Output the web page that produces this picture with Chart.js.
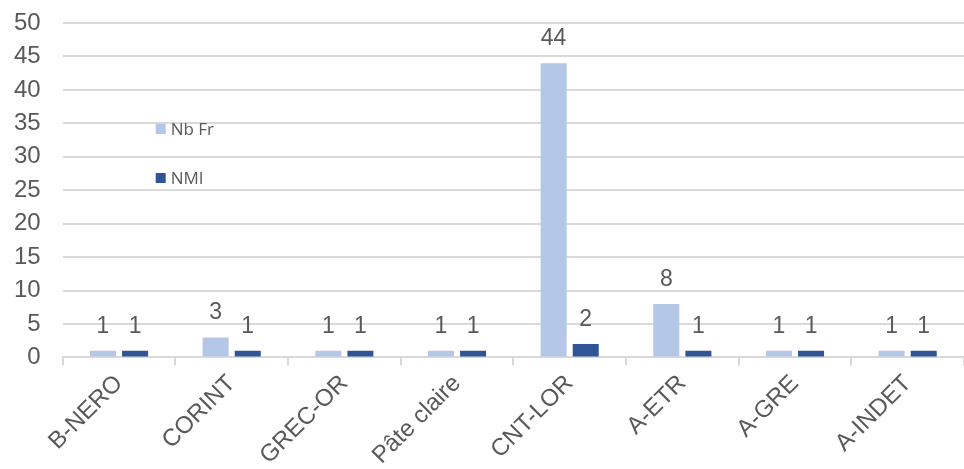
<!DOCTYPE html>
<html>
<head>
<meta charset="utf-8">
<script src="https://cdn.jsdelivr.net/npm/chart.js@4"></script>
<style>
  html, body { margin: 0; padding: 0; background: #ffffff; }
  #wrap { width: 964px; height: 469px; }
</style>
</head>
<body>
<div id="wrap"><canvas id="c" width="964" height="469"></canvas></div>
<script>
// Categories and series
const categories = ['B-NERO', 'CORINT', 'GREC-OR', 'Pâte claire', 'CNT-LOR', 'A-ETR', 'A-GRE', 'A-INDET'];
const nbFr = [1, 3, 1, 1, 44, 8, 1, 1];
const nmi  = [1, 1, 1, 1, 2, 1, 1, 1];
const seriesNames = ['Nb Fr', 'NMI'];
const seriesColors = ['#b4c7e7', '#2f5597'];

const textGray = '#595959';
const gridGray = '#d9d9d9';
const axisFont = '"Liberation Sans", Arial, sans-serif';

// Value labels above each bar
const valueLabels = {
  id: 'valueLabels',
  afterDatasetsDraw(chart) {
    const ctx = chart.ctx;
    ctx.save();
    ctx.font = '23px ' + axisFont;
    ctx.fillStyle = textGray;
    ctx.textAlign = 'center';
    ctx.textBaseline = 'alphabetic';
    chart.data.datasets.forEach((ds, i) => {
      chart.getDatasetMeta(i).data.forEach((bar, j) => {
        ctx.fillText(String(ds.data[j]), bar.x, bar.y - 18);
      });
    });
    ctx.restore();
  }
};

// Legend placed inside the plot area
const innerLegend = {
  id: 'innerLegend',
  afterDraw(chart) {
    const ctx = chart.ctx;
    const a = chart.chartArea;
    ctx.save();
    ctx.font = '17px "Open Sans", "Noto Sans", sans-serif';
    ctx.textBaseline = 'middle';
    chart.data.datasets.forEach((ds, i) => {
      const x = a.left + 93;
      const y = a.top + 106 + i * 49;
      ctx.fillStyle = ds.backgroundColor;
      ctx.fillRect(x, y - 5, 10, 10);
      ctx.fillStyle = textGray;
      ctx.fillText(ds.label, x + 15, y + 1);
    });
    ctx.restore();
  }
};

new Chart(document.getElementById('c'), {
  type: 'bar',
  data: {
    labels: categories,
    datasets: [
      { label: seriesNames[0], data: nbFr, backgroundColor: seriesColors[0] },
      { label: seriesNames[1], data: nmi, backgroundColor: seriesColors[1] }
    ]
  },
  options: {
    responsive: false,
    animation: false,
    devicePixelRatio: 1,
    layout: { padding: { top: 0, right: 0, left: -8, bottom: -5 } },
    datasets: { bar: { categoryPercentage: 0.57, barPercentage: 0.81 } },
    plugins: {
      legend: { display: false },
      tooltip: { enabled: false }
    },
    scales: {
      x: {
        offset: true,
        grid: {
          offset: true,
          drawOnChartArea: false,
          drawTicks: true,
          tickLength: 8,
          color: gridGray,
          lineWidth: 2
        },
        border: { display: true, color: gridGray, width: 2 },
        ticks: {
          color: textGray,
          font: { family: axisFont, size: 24 },
          minRotation: 45,
          maxRotation: 45,
          autoSkip: false,
          padding: 4
        }
      },
      y: {
        min: 0,
        max: 50,
        // keep the top margin independent of the label gap
        afterFit(scale) { scale.paddingTop = 23; },
        ticks: {
          stepSize: 5,
          autoSkip: false,
          color: textGray,
          font: { family: axisFont, size: 24 },
          padding: 22
        },
        grid: { color: gridGray, lineWidth: 2, drawTicks: false },
        border: { display: false }
      }
    }
  },
  plugins: [valueLabels, innerLegend]
});
</script>
</body>
</html>
